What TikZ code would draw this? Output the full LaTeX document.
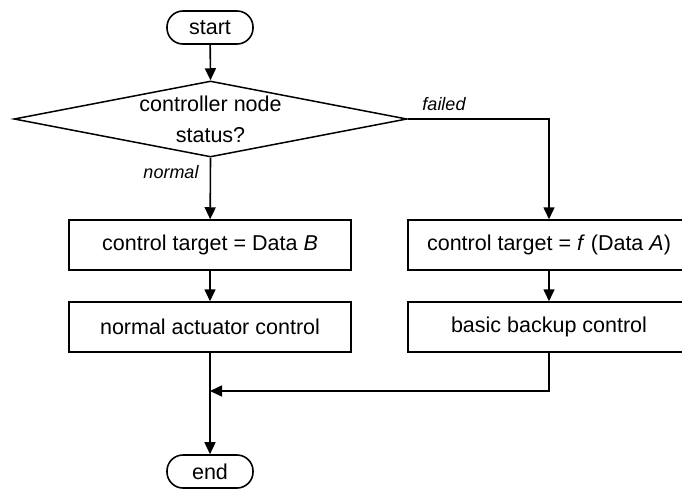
\documentclass[tikz,border=0pt]{standalone}
\usepackage{fontspec}
\setmainfont{Liberation Sans}
\usetikzlibrary{arrows.meta,shapes.geometric}
\begin{document}
\begin{tikzpicture}[x=1pt,y=-1pt,
  every node/.style={font=\fontsize{21.5}{31}\selectfont, inner sep=0pt},
  term/.style={draw, line width=1.6pt, rounded corners=16pt, minimum width=86pt, minimum height=33pt},
  proc/.style={draw, line width=1.5pt, minimum width=282pt, minimum height=50pt},
  dec/.style={draw, line width=1.5pt, diamond, aspect=5.17, minimum width=393pt, minimum height=76pt, align=center},
  lab/.style={font=\fontsize{18}{20}\selectfont\itshape},
  conn/.style={line width=1.6pt, -{Triangle[length=12pt,width=11pt]}},
  plain/.style={line width=1.6pt}]
\useasboundingbox (0,0) rectangle (682,495);
\node[term] (start) at (210,27.5) {start};
\node[dec] (dec) at (210.5,119) {controller node\\status?};
\node[proc] (b1) at (210,245) {control target = Data \textit{B}};
\node[proc] (b2) at (549,245) {control target = \textit{f} (Data \textit{A})};
\node[proc] (b3) at (210,327) {normal actuator control};
\node[proc] (b4) at (549,327) {basic backup control};
\node[term] (end) at (210,471.5) {end};
\node[lab] (lfail) at (444,104) {failed};
\node[lab] (lnorm) at (171,172) {normal};
\coordinate (merge) at (210,391);
\draw[conn] (start) -- (dec.north);
\draw[conn] (dec.south) -- (b1);
\draw[conn] (dec.east) -| (b2.north);
\draw[conn] (b1) -- (b3);
\draw[conn] (b2) -- (b4);
\draw[conn] (b3) -- (end);
\draw[conn] (b4.south) |- (merge);
\end{tikzpicture}
\end{document}
